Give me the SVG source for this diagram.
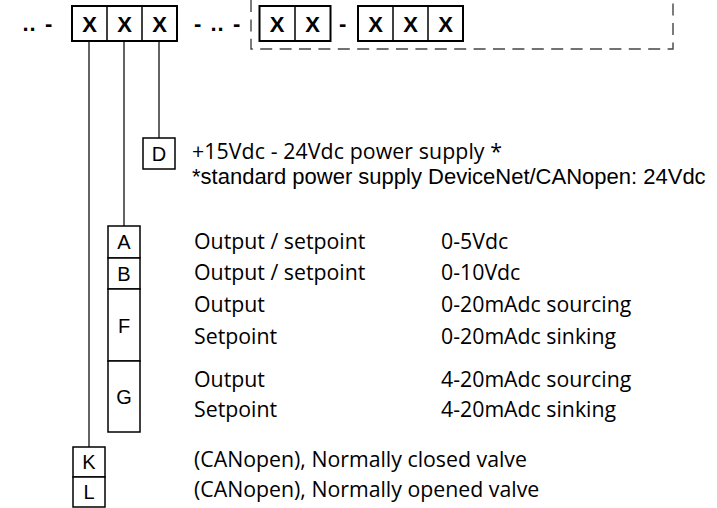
<svg xmlns="http://www.w3.org/2000/svg" width="717" height="508" viewBox="0 0 717 508">
<style>
.bg{fill:#fff}
.cell{fill:#fff;stroke:#000;stroke-width:2}
.box{fill:#fff;stroke:#000;stroke-width:1.5}
.div{stroke:#000;stroke-width:1.5}
.conn{stroke:#222;stroke-width:1.4;fill:none}
.dash{stroke:#444;stroke-width:1.4;fill:none;stroke-dasharray:12 7.4}
.x{font-family:"Liberation Sans",Arial,sans-serif;font-weight:bold;font-size:22px;text-anchor:middle;fill:#000}
.sep{font-family:"Liberation Sans",Arial,sans-serif;font-weight:bold;font-size:22px;fill:#000}
.lbl{font-family:"Liberation Sans",Arial,sans-serif;font-size:20px;text-anchor:middle;fill:#000}
.t{font-family:"Open Sans","Noto Sans",sans-serif;font-size:21.3px;fill:#000}
.ta{font-family:"Liberation Sans",Arial,sans-serif;font-size:22px;fill:#000}
</style>
<rect class="bg" x="0" y="0" width="717" height="508"/>
<path class="dash" d="M251,0 V49 H673 V0"/>
<g id="connectors">
<line class="conn" x1="89" y1="42" x2="89" y2="447"/>
<line class="conn" x1="124" y1="42" x2="124" y2="226"/>
<line class="conn" x1="159" y1="42" x2="159" y2="138"/>
</g>
<g id="code">
<text class="sep" x="22.5 29.5 45" y="31">..-</text>
<rect class="cell" x="72" y="6" width="105" height="35"/>
<line class="div" x1="107" y1="6" x2="107" y2="41"/>
<line class="div" x1="142" y1="6" x2="142" y2="41"/>
<text class="x" x="89.5" y="32">X</text>
<text class="x" x="124.5" y="32">X</text>
<text class="x" x="159.5" y="32">X</text>
<text class="sep" x="194 210.5 217.5 233" y="31">-..-</text>
<rect class="cell" x="259.5" y="6" width="71" height="35"/>
<line class="div" x1="295" y1="6" x2="295" y2="41"/>
<text class="x" x="277" y="32">X</text>
<text class="x" x="312.5" y="32">X</text>
<text class="sep" x="339" y="31">-</text>
<rect class="cell" x="358" y="6" width="105" height="35"/>
<line class="div" x1="393" y1="6" x2="393" y2="41"/>
<line class="div" x1="428" y1="6" x2="428" y2="41"/>
<text class="x" x="375.5" y="32">X</text>
<text class="x" x="410.5" y="32">X</text>
<text class="x" x="445.5" y="32">X</text>
</g>
<g id="D">
<rect class="box" x="143" y="138" width="32" height="31"/>
<text class="lbl" x="159" y="161">D</text>
<text class="t" x="192" y="159" textLength="310">+15Vdc - 24Vdc power supply *</text>
<text class="ta" x="192" y="184">*standard power supply DeviceNet/CANopen: 24Vdc</text>
</g>
<g id="A">
<rect class="box" x="108" y="226" width="32" height="32"/>
<text class="lbl" x="124" y="248.5">A</text>
<text class="t" x="194" y="249">Output / setpoint</text>
<text class="t" x="441" y="249">0-5Vdc</text>
</g>
<g id="B">
<rect class="box" x="108" y="258" width="32" height="31"/>
<text class="lbl" x="124" y="280.5">B</text>
<text class="t" x="194" y="280">Output / setpoint</text>
<text class="t" x="441" y="280">0-10Vdc</text>
</g>
<g id="F">
<rect class="box" x="108" y="289" width="32" height="72"/>
<text class="lbl" x="124" y="333">F</text>
<text class="t" x="194" y="312">Output</text>
<text class="t" x="441" y="312">0-20mAdc sourcing</text>
<text class="t" x="194" y="344">Setpoint</text>
<text class="t" x="441" y="344">0-20mAdc sinking</text>
</g>
<g id="G">
<rect class="box" x="108" y="361" width="32" height="71"/>
<text class="lbl" x="124" y="404">G</text>
<text class="t" x="194" y="387">Output</text>
<text class="t" x="441" y="387">4-20mAdc sourcing</text>
<text class="t" x="194" y="417">Setpoint</text>
<text class="t" x="441" y="417">4-20mAdc sinking</text>
</g>
<g id="K">
<rect class="box" x="73" y="447" width="32" height="30"/>
<text class="lbl" x="89" y="468.5">K</text>
<text class="t" x="194" y="467">(CANopen), Normally closed valve</text>
</g>
<g id="L">
<rect class="box" x="73" y="477" width="32" height="30"/>
<text class="lbl" x="89" y="498.5">L</text>
<text class="t" x="194" y="497">(CANopen), Normally opened valve</text>
</g>
</svg>
